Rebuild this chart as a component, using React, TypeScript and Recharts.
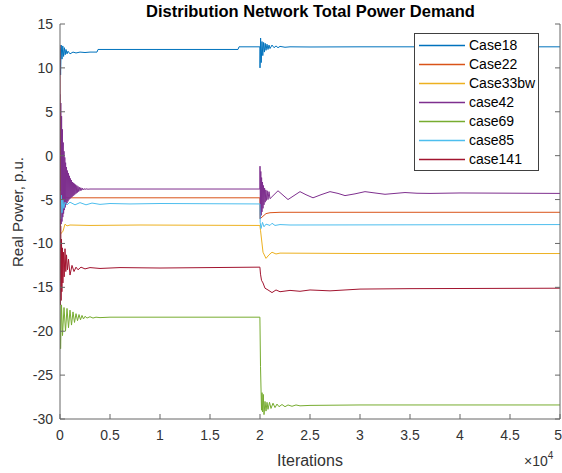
import React from 'react';
import { LineChart, Line, XAxis, YAxis, Legend } from 'recharts';

// [iteration, real power p.u.]
const case18: [number, number][] = [
  [0, 12.3], [60, 9.2], [120, 12.6], [200, 11.0], [280, 12.5], [360, 11.3], [440, 12.3], [520, 11.5],
  [600, 12.1], [700, 11.6], [800, 11.9], [1000, 11.6], [1300, 11.8], [1600, 11.7], [2000, 11.8],
  [2500, 11.75], [3000, 11.8], [3700, 11.8], [3800, 12.1], [5000, 12.1], [10000, 12.1], [17800, 12.1],
  [17900, 12.4], [19990, 12.4], [20000, 10.0], [20060, 13.4], [20120, 10.6], [20200, 13.0], [20280, 11.4],
  [20360, 12.9], [20440, 11.8], [20520, 12.8], [20600, 12.0], [20700, 12.7], [20800, 12.1], [20900, 12.6],
  [21000, 12.2], [21200, 12.6], [21400, 12.3], [21600, 12.5], [21800, 12.3], [22000, 12.45], [22500, 12.35],
  [23000, 12.4], [25000, 12.38], [30000, 12.4], [50000, 12.4],
];
const case22: [number, number][] = [
  [0, -3.0], [100, -6.0], [200, -4.2], [300, -5.2], [500, -4.7], [800, -4.8], [19990, -4.8],
  [20000, -7.2], [20300, -6.9], [20600, -6.6], [21000, -6.5], [22000, -6.45], [50000, -6.45],
];
const case33bw: [number, number][] = [
  [0, -9.0], [300, -8.6], [500, -7.8], [700, -8.0], [1000, -7.9], [3000, -7.95], [8000, -7.9],
  [19990, -7.95], [20050, -8.5], [20300, -11.0], [20600, -11.7], [20900, -11.3], [21200, -11.0],
  [21600, -11.2], [22000, -11.1], [30000, -11.15], [50000, -11.15],
];
const case42: [number, number][] = [
  [0, 7.0], [40, -8.0], [80, 6.0], [120, -7.8], [160, 4.5], [200, -7.5], [240, 3.0], [280, -7.0],
  [320, 1.5], [360, -6.6], [400, 0.5], [440, -6.2], [480, -0.2], [520, -5.9], [560, -0.8], [600, -5.6],
  [650, -1.3], [700, -5.4], [750, -1.7], [800, -5.2], [850, -2.0], [900, -5.0], [950, -2.3], [1000, -4.9],
  [1050, -2.6], [1100, -4.8], [1150, -2.8], [1200, -4.7], [1250, -3.0], [1300, -4.6], [1350, -3.1],
  [1400, -4.5], [1450, -3.2], [1500, -4.4], [1560, -3.3], [1620, -4.3], [1680, -3.4], [1740, -4.2],
  [1800, -3.5], [1870, -4.1], [1940, -3.6], [2010, -4.0], [2080, -3.65], [2150, -3.95], [2230, -3.7],
  [2310, -3.9], [2400, -3.75], [2500, -3.85], [2600, -3.78], [2800, -3.82], [3000, -3.8], [19990, -3.8],
  [20000, -1.2], [20040, -7.2], [20080, -1.8], [20120, -6.8], [20160, -2.5], [20200, -6.4], [20250, -3.0],
  [20300, -6.0], [20350, -3.4], [20400, -5.6], [20460, -3.7], [20520, -5.3], [20580, -3.9], [20650, -5.1],
  [20720, -4.0], [20800, -5.0], [20900, -4.1], [21000, -4.9], [21400, -4.45], [21800, -4.0], [22300, -4.5],
  [22800, -5.0], [23400, -4.55], [24000, -4.1], [24600, -4.45], [25300, -4.8], [26100, -4.45], [27000, -4.1],
  [27800, -4.3], [28500, -4.55], [29500, -4.35], [30500, -4.1], [31500, -4.25], [32500, -4.4], [33500, -4.3],
  [34500, -4.2], [35700, -4.28], [37000, -4.3], [40000, -4.25], [50000, -4.3],
];
const case69: [number, number][] = [
  [0, -16.3], [60, -22.0], [150, -17.0], [250, -20.5], [400, -17.3], [550, -20.0], [700, -17.4],
  [850, -19.6], [1000, -17.6], [1150, -19.3], [1300, -17.8], [1450, -19.0], [1600, -18.0], [1750, -18.8],
  [1900, -18.1], [2050, -18.7], [2200, -18.2], [2350, -18.6], [2500, -18.3], [2700, -18.5], [3000, -18.35],
  [3300, -18.5], [3600, -18.4], [4000, -18.45], [5000, -18.4], [19990, -18.4], [20050, -24.0],
  [20150, -29.0], [20200, -27.0], [20260, -29.2], [20330, -27.2], [20400, -29.5], [20500, -28.0],
  [20600, -29.1], [20700, -28.1], [20800, -28.9], [20950, -28.1], [21100, -28.8], [21300, -28.2],
  [21500, -28.7], [21700, -28.3], [21900, -28.6], [22200, -28.35], [22500, -28.6], [22800, -28.4],
  [23200, -28.55], [23600, -28.4], [24000, -28.5], [25000, -28.45], [30000, -28.4], [50000, -28.4],
];
const case85: [number, number][] = [
  [0, -4.0], [60, -7.2], [130, -4.5], [200, -6.5], [280, -5.0], [380, -6.0], [500, -5.3], [700, -5.6],
  [1000, -5.3], [1500, -5.6], [2000, -5.35], [2600, -5.6], [3200, -5.4], [4000, -5.55], [5000, -5.45],
  [7000, -5.5], [10000, -5.45], [19990, -5.5], [20020, -7.6], [20100, -8.3], [20250, -7.6], [20400, -8.1],
  [20600, -7.8], [21000, -7.95], [21200, -7.7], [21500, -7.95], [22000, -7.85], [23000, -7.9], [50000, -7.85],
];
const case141: [number, number][] = [
  [0, 12.6], [30, -17.0], [70, -8.0], [110, -16.5], [150, -9.5], [190, -15.5], [240, -10.5], [290, -14.5],
  [350, -11.0], [420, -13.8], [500, -10.6], [580, -13.2], [650, -11.3], [750, -13.0], [850, -11.8],
  [1000, -13.6], [1200, -12.5], [1400, -13.2], [1600, -12.7], [1800, -13.0], [2100, -12.7], [2500, -12.9],
  [3000, -12.75], [4000, -12.85], [6000, -12.75], [10000, -12.8], [15000, -12.75], [19990, -12.7],
  [20050, -13.5], [20150, -14.2], [20300, -14.5], [20500, -15.1], [20800, -15.3], [21200, -15.6],
  [21600, -15.3], [22000, -15.5], [23000, -15.35], [24000, -15.45], [25000, -15.3], [27000, -15.4],
  [30000, -15.2], [35000, -15.15], [50000, -15.1],
];

const seriesNames = ['Case18', 'Case22', 'Case33bw', 'case42', 'case69', 'case85', 'case141'];
const seriesData = [case18, case22, case33bw, case42, case69, case85, case141];
const seriesColors = ['#0072BD', '#D95319', '#EDB120', '#7E2F8E', '#77AC30', '#4DBEEE', '#A2142F'];

const xTicks = [0, 5000, 10000, 15000, 20000, 25000, 30000, 35000, 40000, 45000, 50000];
const yTicks = [-30, -25, -20, -15, -10, -5, 0, 5, 10, 15];

const FONT = '"Liberation Sans", Arial, sans-serif';
const AXIS = '#666666';
const TEXT = '#333333';

const BottomTick = (p: any) => {
  const last = p.payload.value === xTicks[xTicks.length - 1];
  return (
    <g>
      <line x1={p.x} x2={p.x} y1={p.y} y2={p.y - 5} stroke={AXIS} />
      <text
        x={last ? p.x + 2 : p.x}
        y={p.y + 21}
        textAnchor={last ? 'end' : 'middle'}
        fontSize={14}
        fontFamily={FONT}
        fill={TEXT}
      >
        {String(p.payload.value / 10000)}
      </text>
    </g>
  );
};
const TopTick = (p: any) => (
  <line x1={p.x} x2={p.x} y1={p.y} y2={p.y + 5} stroke={AXIS} />
);
const LeftTick = (p: any) => (
  <g>
    <line x1={p.x} x2={p.x + 5} y1={p.y} y2={p.y} stroke={AXIS} />
    <text x={p.x - 7} y={p.y + 5} textAnchor="end" fontSize={14} fontFamily={FONT} fill={TEXT}>
      {String(p.payload.value)}
    </text>
  </g>
);
const RightTick = (p: any) => (
  <line x1={p.x} x2={p.x - 5} y1={p.y} y2={p.y} stroke={AXIS} />
);

const LegendBox = () => (
  <div
    style={{
      width: 123,
      height: 134,
      border: '1px solid #404040',
      background: '#fff',
      boxSizing: 'content-box',
      paddingTop: 2,
    }}
  >
    {seriesNames.map((n, i) => (
      <div key={n} style={{ display: 'flex', alignItems: 'center', height: 19 }}>
        <svg width={54} height={19} style={{ display: 'block' }}>
          <line x1={4} x2={50} y1={9.5} y2={9.5} stroke={seriesColors[i]} strokeWidth={1.5} />
        </svg>
        <span style={{ fontFamily: FONT, fontSize: 14, color: '#000', lineHeight: '19px' }}>{n}</span>
      </div>
    ))}
  </div>
);

export default function App() {
  return (
    <div style={{ position: 'absolute', left: 0, top: 0, width: 562, height: 473, background: '#fff' }}>
      <LineChart width={562} height={473} margin={{ top: 24, right: 0, bottom: 0, left: 0 }}>
        <XAxis
          xAxisId="b"
          dataKey="x"
          type="number"
          domain={[0, 50000]}
          ticks={xTicks}
          interval={0}
          height={54}
          tickSize={0}
          tickMargin={0}
          tickLine={false}
          axisLine={{ stroke: AXIS }}
          tick={BottomTick}
          allowDataOverflow
        />
        <XAxis
          xAxisId="t"
          orientation="top"
          type="number"
          domain={[0, 50000]}
          ticks={xTicks}
          interval={0}
          height={0}
          tickSize={0}
          tickMargin={0}
          tickLine={false}
          axisLine={{ stroke: AXIS }}
          tick={TopTick}
          allowDataOverflow
        />
        <YAxis
          yAxisId="l"
          type="number"
          domain={[-30, 15]}
          ticks={yTicks}
          interval={0}
          width={60}
          tickSize={0}
          tickMargin={0}
          tickLine={false}
          axisLine={{ stroke: AXIS }}
          tick={LeftTick}
          allowDataOverflow
        />
        <YAxis
          yAxisId="r"
          orientation="right"
          type="number"
          domain={[-30, 15]}
          ticks={yTicks}
          interval={0}
          width={2}
          tickSize={0}
          tickMargin={0}
          tickLine={false}
          axisLine={{ stroke: AXIS }}
          tick={RightTick}
          allowDataOverflow
        />
        {seriesNames.map((n, i) => (
          <Line
            key={n}
            xAxisId="b"
            yAxisId="l"
            name={n}
            data={seriesData[i].map(([x, y]) => ({ x, y }))}
            dataKey="y"
            stroke={seriesColors[i]}
            strokeWidth={1}
            dot={false}
            activeDot={false}
            isAnimationActive={false}
          />
        ))}
        <Legend
          layout="horizontal"
          verticalAlign="middle"
          align="center"
          content={LegendBox}
          wrapperStyle={{ top: 33, left: 414, width: 125, height: 136 }}
        />
      </LineChart>
      <svg
        width={562}
        height={473}
        style={{ position: 'absolute', left: 0, top: 0, pointerEvents: 'none' }}
      >
        <text x={310.5} y={17} textAnchor="middle" fontFamily={FONT} fontWeight="bold" fontSize={16.5} fill="#000">
          Distribution Network Total Power Demand
        </text>
        <text x={310} y={466} textAnchor="middle" fontFamily={FONT} fontSize={16} fill={TEXT}>
          Iterations
        </text>
        <text transform="translate(23,212) rotate(-90)" textAnchor="middle" fontFamily={FONT} fontSize={15} fill={TEXT}>
          Real Power, p.u.
        </text>
        <text x={524} y={466} fontFamily={FONT} fontSize={14} fill={TEXT}>
          ×10<tspan dy={-7} fontSize={10}>4</tspan>
        </text>
      </svg>
    </div>
  );
}
